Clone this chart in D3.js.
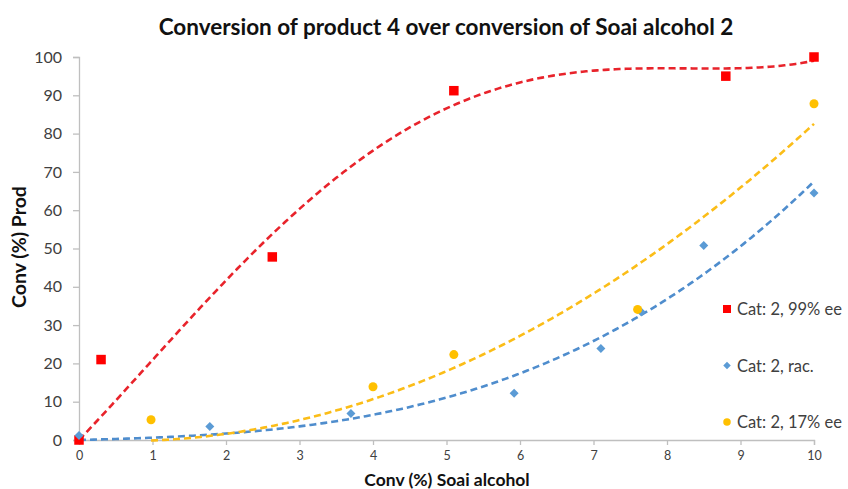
<!DOCTYPE html>
<html>
<head>
<meta charset="utf-8">
<script src="https://cdn.jsdelivr.net/npm/d3@7"></script>
<style>
  html, body { margin: 0; padding: 0; background: #fff; }
  svg { display: block; font-family: Lato, "Open Sans", sans-serif; }
</style>
</head>
<body>
<svg id="chart" width="848" height="489"></svg>
<script>
// Conversion data (x: Soai alcohol conversion %, y: product conversion %)
const ee99X = [0, 0.3, 2.63, 5.1, 8.8, 10];
const ee99Y = [0, 21, 47.8, 91.2, 95, 100];

const racX = [0, 1.78, 3.7, 5.92, 7.1, 7.65, 8.5, 10];
const racY = [1.2, 3.5, 6.9, 12.2, 23.9, 33.4, 50.8, 64.5];

const ee17X = [0.98, 4.0, 5.1, 7.6, 10];
const ee17Y = [5.3, 13.9, 22.3, 34.1, 87.8];

const seriesNames = ["Cat: 2, 99% ee", "Cat: 2, rac.", "Cat: 2, 17% ee"];
const xTicks = [0, 1, 2, 3, 4, 5, 6, 7, 8, 9, 10];
const yTicks = [0, 10, 20, 30, 40, 50, 60, 70, 80, 90, 100];

// Polynomial trendlines, intercept fixed at zero
const series = [
  { name: seriesNames[0], xs: ee99X, ys: ee99Y, color: "#ff0000", trend: "#e8232b", order: 4, shape: "square" },
  { name: seriesNames[1], xs: racX, ys: racY, color: "#5b9bd5", trend: "#4f8dcd", order: 3, shape: "diamond" },
  { name: seriesNames[2], xs: ee17X, ys: ee17Y, color: "#ffc000", trend: "#fbbd18", order: 2, shape: "circle" }
];

// Least-squares fit of y = c1*x + c2*x^2 + ... + cn*x^n
function polyFitZero(xs, ys, order) {
  const pw = d3.range(1, order + 1);
  const n = pw.length;
  const A = Array.from({ length: n }, () => new Array(n + 1).fill(0));
  for (let i = 0; i < xs.length; i++) {
    for (let r = 0; r < n; r++) {
      for (let c = 0; c < n; c++) A[r][c] += Math.pow(xs[i], pw[r] + pw[c]);
      A[r][n] += ys[i] * Math.pow(xs[i], pw[r]);
    }
  }
  for (let p = 0; p < n; p++) {
    let max = p;
    for (let r = p + 1; r < n; r++) if (Math.abs(A[r][p]) > Math.abs(A[max][p])) max = r;
    [A[p], A[max]] = [A[max], A[p]];
    for (let r = p + 1; r < n; r++) {
      const f = A[r][p] / A[p][p];
      for (let c = p; c <= n; c++) A[r][c] -= f * A[p][c];
    }
  }
  const coef = new Array(n).fill(0);
  for (let r = n - 1; r >= 0; r--) {
    let s = A[r][n];
    for (let c = r + 1; c < n; c++) s -= A[r][c] * coef[c];
    coef[r] = s / A[r][r];
  }
  return xv => coef.reduce((s, c, i) => s + c * Math.pow(xv, pw[i]), 0);
}

const svg = d3.select("#chart");
const x = d3.scaleLinear().domain([0, 10]).range([79, 814]);
const y = d3.scaleLinear().domain([0, 100]).range([440, 57]);

// Title
svg.append("text")
  .attr("x", 446).attr("y", 35)
  .attr("text-anchor", "middle")
  .attr("font-size", 22.5).attr("font-weight", "bold").attr("fill", "#111")
  .text("Conversion of product 4 over conversion of Soai alcohol 2");

// Axes
const axisColor = "#bfbfbf";
const yAxis = svg.append("g").attr("transform", `translate(${x(0)},0)`)
  .call(d3.axisLeft(y).tickValues(yTicks).tickSize(6).tickPadding(11));
const xAxis = svg.append("g").attr("transform", `translate(0,${y(0)})`)
  .call(d3.axisBottom(x).tickValues(xTicks).tickSize(5).tickPadding(6));
[yAxis, xAxis].forEach(g => {
  g.select(".domain").attr("stroke", axisColor).attr("stroke-width", 1.3);
  g.selectAll(".tick line").attr("stroke", axisColor).attr("stroke-width", 1.3);
  g.selectAll(".tick text").attr("fill", "#404040").attr("font-family", "Lato, sans-serif");
});
yAxis.selectAll(".tick text").attr("font-size", 16);
xAxis.selectAll(".tick text").attr("font-size", 12.5);

// Axis titles
svg.append("text")
  .attr("x", 447).attr("y", 486)
  .attr("text-anchor", "middle")
  .attr("font-size", 17.5).attr("font-weight", "bold").attr("fill", "#111")
  .text("Conv (%) Soai alcohol");
svg.append("text")
  .attr("transform", `translate(26,247) rotate(-90)`)
  .attr("text-anchor", "middle")
  .attr("font-size", 19.5).attr("font-weight", "bold").attr("fill", "#111")
  .text("Conv (%) Prod");

// Trendlines over each series' x range
const line = d3.line().x(d => x(d[0])).y(d => y(d[1]));
series.forEach(s => {
  const f = polyFitZero(s.xs, s.ys, s.order);
  const [x0, x1] = d3.extent(s.xs);
  const pts = d3.range(0, 201).map(i => {
    const xv = x0 + (x1 - x0) * i / 200;
    return [xv, f(xv)];
  });
  svg.append("path")
    .datum(pts)
    .attr("d", line)
    .attr("fill", "none")
    .attr("stroke", s.trend)
    .attr("stroke-width", 2.6)
    .attr("stroke-dasharray", "7,4");
});

// Markers
function drawMarker(g, shape, color, cx, cy, size) {
  if (shape === "square") {
    g.append("rect").attr("x", cx - size / 2).attr("y", cy - size / 2)
      .attr("width", size).attr("height", size).attr("fill", color);
  } else if (shape === "diamond") {
    const h = size / 2;
    g.append("path").attr("d", `M${cx},${cy - h}L${cx + h},${cy}L${cx},${cy + h}L${cx - h},${cy}Z`)
      .attr("fill", color);
  } else {
    g.append("circle").attr("cx", cx).attr("cy", cy).attr("r", size / 2).attr("fill", color);
  }
}
const markerSize = { square: 9.5, diamond: 9, circle: 9 };
series.forEach(s => {
  const g = svg.append("g");
  s.xs.forEach((xv, i) => drawMarker(g, s.shape, s.color, x(xv), y(s.ys[i]), markerSize[s.shape]));
});

// Legend
const legend = svg.append("g");
series.forEach((s, i) => {
  const ly = 309 + i * 56.5;
  drawMarker(legend, s.shape, s.color, 727, ly, s.shape === "square" ? 8 : 7.5);
  legend.append("text")
    .attr("x", 737).attr("y", ly + 6)
    .attr("font-size", 16.5).attr("fill", "#404040")
    .text(s.name);
});
</script>
</body>
</html>
